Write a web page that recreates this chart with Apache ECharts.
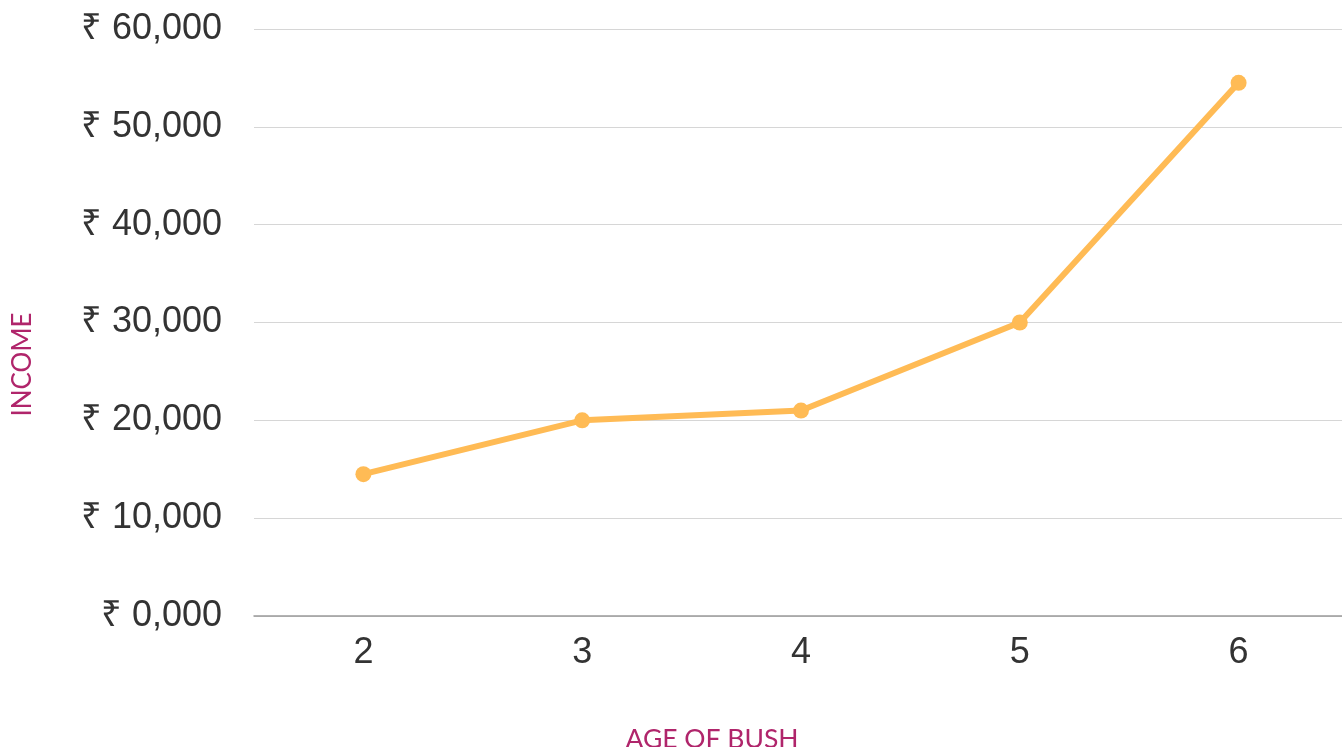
<!DOCTYPE html>
<html><head><meta charset="utf-8">
<script src="https://cdn.jsdelivr.net/npm/echarts@6/dist/echarts.min.js"></script>
<style>html,body{margin:0;padding:0;background:#fff;overflow:hidden;width:1342px;height:747px}#c{width:1342px;height:747px}</style>
</head><body><div id="c"></div>
<script>
const categories = ['2', '3', '4', '5', '6'];
const incomeValues = [14500, 20000, 21000, 30000, 54500];
const yTickValues = [0, 10000, 20000, 30000, 40000, 50000, 60000];
const yTickLabels = ['₹ 0,000', '₹ 10,000', '₹ 20,000', '₹ 30,000', '₹ 40,000', '₹ 50,000', '₹ 60,000'];
const xAxisTitle = 'AGE OF BUSH';
const yAxisTitle = 'INCOME';

const chart = echarts.init(document.getElementById('c'));
chart.setOption({
  animation: false,
  grid: { left: 254, top: 29, width: 1094, height: 587, containLabel: false, outerBoundsMode: 'none' },
  xAxis: {
    type: 'category', data: categories, boundaryGap: true,
    name: xAxisTitle, nameLocation: 'middle', nameGap: 110,
    nameTextStyle: { fontFamily: 'Lato', fontSize: 26.5, color: '#b0256b', padding: [0, 178, 0, 0] },
    axisLine: { lineStyle: { color: '#9a9a9a', width: 1.5 } },
    axisTick: { show: false },
    axisLabel: { fontFamily: 'Liberation Sans', fontSize: 36, color: '#333', margin: 19 }
  },
  yAxis: {
    type: 'value', min: 0, max: 60000, interval: 10000,
    name: yAxisTitle, nameLocation: 'middle', nameGap: 218, nameRotate: 90,
    nameTextStyle: { fontFamily: 'Lato', fontSize: 26, color: '#b0256b', padding: [0, 84, 0, 0] },
    axisLine: { show: false }, axisTick: { show: false },
    splitLine: { lineStyle: { color: '#d6d6d6', width: 1.2 } },
    axisLabel: {
      fontFamily: 'Liberation Sans', fontSize: 36, color: '#333', margin: 32,
      formatter: v => yTickLabels[yTickValues.indexOf(v)]
    }
  },
  series: [{
    type: 'line', data: incomeValues,
    lineStyle: { color: '#ffbb55', width: 6 },
    itemStyle: { color: '#ffbb55' },
    symbol: 'circle', symbolSize: 16, showSymbol: true
  }]
});
</script></body></html>
